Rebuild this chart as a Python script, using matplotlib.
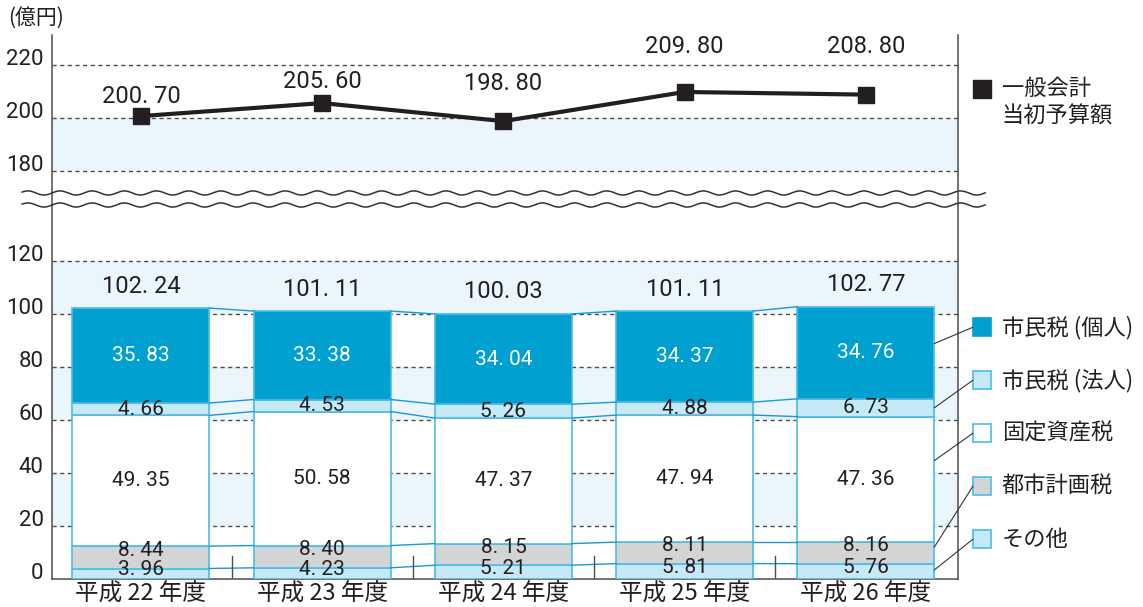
import numpy as np
import matplotlib
matplotlib.use("Agg")
import matplotlib.pyplot as plt
from matplotlib.patches import Rectangle

plt.rcParams['font.family'] = ['Noto Sans CJK JP', 'DejaVu Sans']
NUM = ['Roboto', 'DejaVu Sans']

years = ["平成 22 年度", "平成 23 年度", "平成 24 年度", "平成 25 年度", "平成 26 年度"]
budget = [200.70, 205.60, 198.80, 209.80, 208.80]
sonota = [3.96, 4.23, 5.21, 5.81, 5.76]
toshi = [8.44, 8.40, 8.15, 8.11, 8.16]
kotei = [49.35, 50.58, 47.37, 47.94, 47.36]
hojin = [4.66, 4.53, 5.26, 4.88, 6.73]
kojin = [35.83, 33.38, 34.04, 34.37, 34.76]
totals = [102.24, 101.11, 100.03, 101.11, 102.77]

series = [sonota, toshi, kotei, hojin, kojin]
names = ["その他", "都市計画税", "固定資産税", "市民税 (法人)", "市民税 (個人)"]
colors = ["#c6e9f8", "#d3d4d6", "#ffffff", "#c6e9f8", "#00a0d1"]
txt = "#231f20"
edge = "#4cbbe9"
conn = "#1a97d5"
band = "#ebf6fc"


def fmt(v):
    return f"{v:.2f}".replace(".", ". ")


# broken y axis: 120..180 squeezed
def fwd(v):
    v = np.asarray(v, float)
    return np.where(v <= 120, v, np.where(v < 180, 120 + (v - 120) * 34 / 60, v - 26))


def inv(t):
    t = np.asarray(t, float)
    return np.where(t <= 120, t, np.where(t < 154, 120 + (t - 120) * 60 / 34, t + 26))


fig = plt.figure(figsize=(11.43, 6.07), dpi=100)
ax = fig.add_axes([52 / 1143, 28 / 607, 906 / 1143, 544 / 607])
ax.set_yscale('function', functions=(fwd, inv))
ax.set_ylim(0, float(inv(205.3)))
ax.set_xlim(-0.491, 4.508)

# background bands and dashed grid
for lo in [20, 60, 100, 180]:
    ax.axhspan(lo, lo + 20, color=band, lw=0, zorder=0)
for g in [20, 40, 60, 80, 100, 120, 180, 200, 220]:
    ax.axhline(g, color="#4d4d4d", lw=1, ls=(0, (3, 2.5)), zorder=1)

x = np.arange(len(years))
w = 0.756
bottom = np.zeros(len(years))
tops = []
for vals, col in zip(series, colors):
    ax.bar(x, vals, w, bottom=bottom, color=col, edgecolor=edge, lw=1.2, zorder=3)
    bottom = bottom + np.array(vals)
    tops.append(bottom.copy())

# connectors between bars
for lvl in tops:
    for i in range(len(x) - 1):
        ax.plot([x[i] + w / 2, x[i + 1] - w / 2], [lvl[i], lvl[i + 1]], color=conn, lw=1, zorder=4)

# segment labels
lab_shift = [4, 7, 0, 0, 0]
base = np.zeros(len(years))
for k, vals in enumerate(series):
    for i, v in enumerate(vals):
        ax.annotate(fmt(v), (x[i], base[i] + v / 2),
                    xytext=(0, lab_shift[k]), textcoords="offset pixels",
                    ha="center", va="center", fontsize=15, family=NUM,
                    color="white" if k == 4 else txt, zorder=6)
    base = base + np.array(vals)

for i, t in enumerate(totals):
    ax.annotate(fmt(t), (x[i], t), xytext=(0, 22),
                textcoords="offset pixels", ha="center", va="center",
                fontsize=17, family=NUM, color=txt, zorder=6)

# budget line
ax.plot(x, budget, color=txt, lw=3, marker="s", ms=11, zorder=7)
line_off = [20, 22, 38, 45, 48]
for i, b in enumerate(budget):
    ax.annotate(fmt(b), (x[i], b), xytext=(0, line_off[i]),
                textcoords="offset pixels", ha="center", va="center",
                fontsize=17, family=NUM, color=txt, zorder=7)

# category separators
for s in x[:-1] + 0.5:
    ax.plot([s, s], [0, 8.5], color="#4d4d4d", lw=1, zorder=5)

# wavy break marks
wx = np.linspace(-0.033, 1.03, 800)
for yc in [0.7096, 0.6875]:
    wy = yc + 0.0038 * np.sin(2 * np.pi * wx / 0.0355)
    ax.plot(wx, wy, color="#333333", lw=1.1, transform=ax.transAxes, clip_on=False, zorder=8)

# axes styling
ax.spines['top'].set_visible(False)
for s in ['left', 'right', 'bottom']:
    ax.spines[s].set_color("#4d4d4d")
    ax.spines[s].set_linewidth(1.1)
ax.set_yticks([0, 20, 40, 60, 80, 100, 120, 180, 200, 220])
ax.set_yticklabels(["0", "20", "40", "60", "80", "100", "120", "180", "200", "220"])
ax.tick_params(axis='y', length=0, pad=6, labelsize=16, labelcolor=txt)
for lb in ax.get_yticklabels():
    lb.set_verticalalignment('baseline')
    lb.set_family(NUM)
ax.set_xticks(x)
ax.set_xticklabels(years)
ax.tick_params(axis='x', length=0, pad=3, labelsize=17, labelcolor=txt)
fig.text(8 / 1143, 1 - 18 / 607, "(億円)", fontsize=15, color=txt, va="center", ha="left")

# legend with leader lines
sq_x = 4.59
sq_w = 18 / 181.25
sq_h = 18 / 2.65
leg_y = [15, 35, 55, 75, 95]
anchor = [0.6, 0.78, 0.65, 0.5, 0.6]
base = np.zeros(len(years))
for k, vals in enumerate(series):
    ax.add_patch(Rectangle((sq_x, leg_y[k] - sq_h / 2), sq_w, sq_h, facecolor=colors[k],
                           edgecolor=colors[k] if k == 4 else edge, lw=1.2, clip_on=False, zorder=6))
    ay = base[-1] + anchor[k] * vals[-1]
    ax.plot([x[-1] + w / 2, sq_x], [ay, leg_y[k]], color="#333333", lw=0.8, clip_on=False, zorder=6)
    ax.text(sq_x + sq_w + 0.06, leg_y[k], names[k], fontsize=16, color=txt,
            va="center", ha="left", clip_on=False)
    base = base + np.array(vals)

ax.add_patch(Rectangle((sq_x, float(inv(185.1 - sq_h / 2))), sq_w,
                       float(inv(185.1 + sq_h / 2)) - float(inv(185.1 - sq_h / 2)),
                       facecolor=txt, edgecolor=txt, clip_on=False, zorder=6))
ax.text(sq_x + sq_w + 0.06, float(inv(180.0)), "一般会計\n当初予算額", fontsize=16, color=txt,
        va="center", ha="left", linespacing=1.25, clip_on=False)

fig.savefig("out.png", dpi=100)
